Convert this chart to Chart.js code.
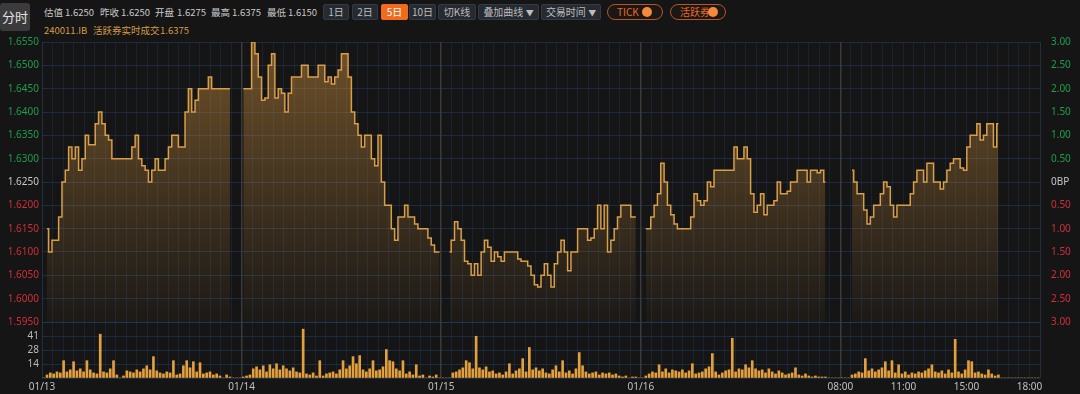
<!DOCTYPE html>
<html>
<head>
<meta charset="utf-8">
<script src="https://cdn.jsdelivr.net/npm/chart.js@4.4.1/dist/chart.umd.min.js"></script>
<style>
html, body { margin: 0; padding: 0; background: #151515; width: 1080px; height: 394px; overflow: hidden; }
body { position: relative; font-family: "Noto Sans CJK SC", "Noto Sans", sans-serif; }
.abs { position: absolute; white-space: nowrap; }
.tab { left: 0; top: 3px; width: 30px; height: 28px; background: #3b3b3b; border-radius: 3px; color: #e2e2e2; font-size: 13px; line-height: 28px; text-align: center; }
.info { top: 5px; font-size: 9.5px; line-height: 14px; color: #c8c8c8; }
.sub { top: 23px; font-size: 9.5px; line-height: 14px; color: #d49b42; }
.btn { top: 4px; height: 14px; line-height: 14px; background: #262a31; border: 1px solid #343a44; border-radius: 2px; color: #bdbdbd; font-size: 10px; text-align: center; }
.btn.on { background: #f26b1d; border-color: #f26b1d; color: #fff; }
.pill { top: 4px; height: 14px; line-height: 14px; border: 1px solid #b5552a; border-radius: 8px; color: #e8672a; font-size: 10px; padding-left: 9px; background: #1b1715; }
.dot { position: absolute; top: 2px; width: 10px; height: 10px; border-radius: 5px; background: #f58a3c; }
canvas { position: absolute; left: 0; }
</style>
</head>
<body>
<div class="abs tab">分时</div>

<div class="abs info" style="left:44px">估值</div>
<div class="abs info" style="left:65px">1.6250</div>
<div class="abs info" style="left:100px">昨收</div>
<div class="abs info" style="left:121px">1.6250</div>
<div class="abs info" style="left:155px">开盘</div>
<div class="abs info" style="left:177px">1.6275</div>
<div class="abs info" style="left:211px">最高</div>
<div class="abs info" style="left:232px">1.6375</div>
<div class="abs info" style="left:267px">最低</div>
<div class="abs info" style="left:288px">1.6150</div>

<div class="abs btn" style="left:323px;width:24px">1日</div>
<div class="abs btn" style="left:352px;width:24px">2日</div>
<div class="abs btn on" style="left:381px;width:25px">5日</div>
<div class="abs btn" style="left:409px;width:25px">10日</div>
<div class="abs btn" style="left:438px;width:36px">切K线</div>
<div class="abs btn" style="left:478px;width:59px">叠加曲线 <span style="font-size:8px">▼</span></div>
<div class="abs btn" style="left:541px;width:58px">交易时间 <span style="font-size:8px">▼</span></div>
<div class="abs pill" style="left:607px;width:45px">TICK<span class="dot" style="left:34px"></span></div>
<div class="abs pill" style="left:670px;width:45px">活跃券<span class="dot" style="left:37px"></span></div>

<div class="abs sub" style="left:44px">240011.IB</div>
<div class="abs sub" style="left:93px">活跃券实时成交</div>
<div class="abs sub" style="left:160px">1.6375</div>

<canvas id="priceChart" width="1080" height="298" style="top:33px"></canvas>
<canvas id="volChart" width="1080" height="83" style="top:313px"></canvas>

<script>
// ---------------- data ----------------
const dayLabels = ['01/13', '01/14', '01/15', '01/16'];
const timeLabels = ['08:00', '11:00', '15:00', '18:00'];

// price ticks (left) and bp ticks (right)
const priceTicks = [1.5950, 1.6000, 1.6050, 1.6100, 1.6150, 1.6200, 1.6250, 1.6300, 1.6350, 1.6400, 1.6450, 1.6500, 1.6550];
const basePrice = 1.6250;
const bpTicks = [-3, -2.5, -2, -1.5, -1, -0.5, 0, 0.5, 1, 1.5, 2, 2.5, 3];
const volTicks = [0, 13.75, 27.5, 41.25, 55];
const volTickLabels = ['', '14', '28', '41', ''];

// 60 samples per trading day
const day1Price = [null, 1.6150, 1.6100, 1.6125, 1.6125, 1.6175, 1.6250, 1.6275, 1.6325, 1.6300,
    1.6325, 1.6275, 1.6300, 1.6350, 1.6330, 1.6330, 1.6375, 1.6400, 1.6375, 1.6350,
    1.6340, 1.6300, 1.6300, 1.6300, 1.6300, 1.6300, 1.6300, 1.6325, 1.6350, 1.6300,
    1.6285, 1.6275, 1.6250, 1.6275, 1.6300, 1.6275, 1.6275, 1.6300, 1.6325, 1.6350,
    1.6350, 1.6325, 1.6325, 1.6400, 1.6450, 1.6400, 1.6425, 1.6450, 1.6450, 1.6450,
    1.6475, 1.6450, 1.6450, 1.6450, 1.6450, 1.6450, 1.6450, null, null, null];
const day2Price = [1.6450, 1.6450, 1.6450, 1.6550, 1.6525, 1.6475, 1.6425, 1.6430, 1.6500, 1.6525,
    1.6430, 1.6450, 1.6440, 1.6400, 1.6440, 1.6475, 1.6475, 1.6475, 1.6500, 1.6500,
    1.6475, 1.6475, 1.6475, 1.6500, 1.6500, 1.6465, 1.6475, 1.6460, 1.6475, 1.6490,
    1.6525, 1.6525, 1.6475, 1.6400, 1.6375, 1.6350, 1.6325, 1.6350, 1.6350, 1.6300,
    1.6285, 1.6350, 1.6250, 1.6200, 1.6200, 1.6150, 1.6125, 1.6175, 1.6175, 1.6200,
    1.6175, 1.6175, 1.6160, 1.6150, 1.6150, 1.6150, 1.6130, 1.6115, 1.6100, 1.6100];
const day3Price = [null, null, 1.6100, 1.6125, 1.6165, 1.6150, 1.6125, 1.6080, 1.6075, 1.6050,
    1.6075, 1.6050, 1.6100, 1.6125, 1.6110, 1.6080, 1.6100, 1.6090, 1.6080, 1.6100,
    1.6100, 1.6100, 1.6100, 1.6085, 1.6080, 1.6080, 1.6070, 1.6050, 1.6030, 1.6025,
    1.6050, 1.6075, 1.6050, 1.6025, 1.6075, 1.6100, 1.6125, 1.6100, 1.6060, 1.6100,
    1.6100, 1.6150, 1.6150, 1.6150, 1.6125, 1.6130, 1.6150, 1.6200, 1.6150, 1.6200,
    1.6100, 1.6125, 1.6150, 1.6175, 1.6200, 1.6200, 1.6200, 1.6175, 1.6175, null];
const day4Price = [null, 1.6150, 1.6150, 1.6175, 1.6200, 1.6225, 1.6290, 1.6250, 1.6200, 1.6180,
    1.6160, 1.6150, 1.6150, 1.6150, 1.6150, 1.6175, 1.6225, 1.6210, 1.6200, 1.6210,
    1.6250, 1.6240, 1.6275, 1.6275, 1.6275, 1.6275, 1.6275, 1.6275, 1.6325, 1.6300,
    1.6300, 1.6325, 1.6300, 1.6225, 1.6185, 1.6200, 1.6225, 1.6180, 1.6200, 1.6200,
    1.6210, 1.6250, 1.6225, 1.6225, 1.6230, 1.6250, 1.6250, 1.6275, 1.6275, 1.6275,
    1.6250, 1.6275, 1.6275, 1.6270, 1.6275, 1.6250, null, null, null, null];
const day5Price = [null, null, null, 1.6275, 1.6250, 1.6225, 1.6225, 1.6190, 1.6160, 1.6175,
    1.6200, 1.6200, 1.6225, 1.6250, 1.6240, 1.6200, 1.6175, 1.6200, 1.6200, 1.6200,
    1.6200, 1.6225, 1.6250, 1.6275, 1.6275, 1.6250, 1.6290, 1.6290, 1.6250, 1.6250,
    1.6235, 1.6250, 1.6275, 1.6290, 1.6300, 1.6300, 1.6280, 1.6275, 1.6325, 1.6350,
    1.6350, 1.6375, 1.6340, 1.6350, 1.6375, 1.6375, 1.6325, 1.6375, null, null,
    null, null, null, null, null, null, null, null, null, null];

const day1Vol = [0, 3, 5, 4, 6, 5, 17, 6, 8, 16, 7, 9, 6, 17, 8, 5, 4, 43, 6, 5,
    9, 17, 3, 0, 2, 7, 6, 5, 8, 6, 9, 12, 8, 21, 7, 5, 4, 6, 5, 17,
    3, 4, 12, 17, 10, 16, 6, 15, 4, 5, 6, 3, 4, 2, 0, 3, 1, 0, 0, 0];
const day2Vol = [1, 2, 3, 9, 11, 8, 12, 6, 13, 9, 14, 8, 12, 9, 7, 10, 6, 5, 48, 4,
    3, 5, 2, 17, 2, 4, 5, 6, 4, 8, 17, 9, 12, 21, 14, 22, 8, 6, 9, 17,
    7, 8, 11, 28, 17, 16, 9, 7, 17, 4, 6, 3, 13, 2, 3, 0, 2, 1, 3, 0];
const day3Vol = [0, 0, 0, 5, 6, 8, 10, 17, 15, 9, 41, 10, 8, 11, 6, 7, 4, 5, 3, 6,
    14, 4, 7, 9, 19, 6, 30, 8, 10, 7, 9, 5, 4, 8, 12, 6, 17, 5, 7, 4,
    9, 25, 12, 6, 4, 5, 6, 3, 5, 4, 5, 3, 4, 2, 1, 2, 0, 1, 1, 0];
const day4Vol = [0, 2, 4, 6, 5, 13, 6, 9, 5, 8, 7, 6, 8, 5, 7, 14, 4, 5, 6, 9,
    11, 24, 6, 3, 5, 7, 8, 39, 6, 9, 8, 13, 10, 17, 9, 7, 8, 5, 9, 6,
    4, 7, 5, 3, 4, 5, 10, 3, 2, 4, 2, 1, 2, 1, 1, 1, 0, 0, 0, 0];
const day5Vol = [0, 0, 0, 3, 4, 6, 5, 19, 7, 9, 6, 8, 10, 16, 7, 17, 5, 13, 4, 6,
    3, 5, 4, 6, 5, 7, 9, 13, 6, 5, 7, 4, 8, 5, 38, 6, 4, 8, 17, 16,
    5, 6, 4, 3, 8, 4, 2, 3, 0, 0, 0, 0, 0, 0, 0, 0, 0, 0, 0, 0];

// ---------------- layout helpers ----------------
const GRID_PER_DAY = 19;
const SAMPLES = 60;
const DAYS = 5;

const allPrices = [day1Price, day2Price, day3Price, day4Price, day5Price];
const allVols = [day1Vol, day2Vol, day3Vol, day4Vol, day5Vol];

const pricePoints = [];
const volPoints = [];
allPrices.forEach((arr, d) => {
    arr.forEach((v, i) => pricePoints.push({ x: d * GRID_PER_DAY + (i + 0.5) * GRID_PER_DAY / SAMPLES, y: v }));
    pricePoints.push({ x: (d + 1) * GRID_PER_DAY, y: null }); // break between days
});
allVols.forEach((arr, d) => {
    arr.forEach((v, i) => volPoints.push({ x: d * GRID_PER_DAY + (i + 0.5) * GRID_PER_DAY / SAMPLES, y: v }));
});

// x tick positions: one grid line per cell, labels on day starts + today's hours
const gridTicks = [];
for (let k = 0; k <= DAYS * GRID_PER_DAY; k++) gridTicks.push(k);
const xLabelMap = {};
dayLabels.forEach((t, d) => { xLabelMap[d * GRID_PER_DAY] = t; });
[0, 6, 12, 18].forEach((k, j) => { xLabelMap[4 * GRID_PER_DAY + k] = timeLabels[j]; });

const FONT = "'Noto Sans', 'Noto Sans CJK SC', sans-serif";
Chart.defaults.font.family = FONT;
Chart.defaults.font.size = 10;

const GREEN = '#1f9d4b';
const RED = '#cf2f3a';
const GREY = '#c6c6c6';

function xGridColor(c) {
    if (!c.tick) return 'rgba(0,0,0,0)';
    const k = c.tick.value;
    if (k === 0 || k === DAYS * GRID_PER_DAY) return 'rgba(45,70,100,0.55)';
    if (k % GRID_PER_DAY === 0) return '#3a3a3a';
    return 'rgba(35,60,95,0.35)';
}
function xGridWidth(c) {
    if (!c.tick) return 1;
    const k = c.tick.value;
    return (k % GRID_PER_DAY === 0 && k !== 0 && k !== DAYS * GRID_PER_DAY) ? 1.5 : 1;
}
const hGrid = 'rgba(35,65,105,0.5)';

// ---------------- price chart ----------------
const priceChart = new Chart(document.getElementById('priceChart'), {
    type: 'line',
    data: {
        datasets: [{
            data: pricePoints,
            borderColor: '#d99e48',
            borderWidth: 1.5,
            pointRadius: 0,
            stepped: 'middle',
            spanGaps: false,
            fill: 'start',
            backgroundColor: (c) => {
                const a = c.chart.chartArea;
                if (!a) return 'rgba(0,0,0,0)';
                const g = c.chart.ctx.createLinearGradient(0, a.top, 0, a.bottom);
                g.addColorStop(0, 'rgba(200,140,60,0.5)');
                g.addColorStop(1, 'rgba(200,140,60,0.04)');
                return g;
            }
        }]
    },
    options: {
        responsive: false,
        animation: false,
        events: [],
        layout: { padding: 0 },
        plugins: { legend: { display: false }, tooltip: { enabled: false } },
        scales: {
            x: {
                type: 'linear',
                min: 0,
                max: DAYS * GRID_PER_DAY,
                afterBuildTicks: (s) => { s.ticks = gridTicks.map(v => ({ value: v })); },
                ticks: { display: false },
                grid: { color: xGridColor, lineWidth: xGridWidth, drawTicks: false },
                border: { display: false }
            },
            y: {
                position: 'left',
                min: priceTicks[0],
                max: priceTicks[priceTicks.length - 1],
                afterBuildTicks: (s) => { s.ticks = priceTicks.map(v => ({ value: v })); },
                afterFit: (s) => { s.width = 42; },
                ticks: {
                    autoSkip: false,
                    padding: 3,
                    color: (c) => {
                        if (!c.tick) return GREY;
                        const v = c.tick.value;
                        if (Math.abs(v - basePrice) < 1e-7) return GREY;
                        return v > basePrice ? GREEN : RED;
                    },
                    callback: (v) => Number(v).toFixed(4)
                },
                grid: { color: hGrid, drawTicks: false },
                border: { display: false }
            },
            bp: {
                position: 'right',
                min: bpTicks[0],
                max: bpTicks[bpTicks.length - 1],
                afterBuildTicks: (s) => { s.ticks = bpTicks.map(v => ({ value: v })); },
                afterFit: (s) => { s.width = 40; },
                ticks: {
                    autoSkip: false,
                    padding: 3,
                    color: (c) => {
                        if (!c.tick) return GREY;
                        const v = c.tick.value;
                        if (v === 0) return GREY;
                        return v > 0 ? GREEN : RED;
                    },
                    callback: (v) => v === 0 ? '0BP' : Math.abs(v).toFixed(2)
                },
                grid: { display: false },
                border: { display: false }
            }
        }
    }
});

// ---------------- volume chart ----------------
const volChart = new Chart(document.getElementById('volChart'), {
    type: 'bar',
    data: {
        datasets: [{
            data: volPoints,
            backgroundColor: '#e3a03c',
            barThickness: 2,
            borderWidth: 0
        }]
    },
    options: {
        responsive: false,
        animation: false,
        events: [],
        layout: { padding: { right: 40 } },
        plugins: { legend: { display: false }, tooltip: { enabled: false } },
        scales: {
            x: {
                type: 'linear',
                min: 0,
                max: DAYS * GRID_PER_DAY,
                offset: false,
                afterBuildTicks: (s) => { s.ticks = gridTicks.map(v => ({ value: v })); },
                ticks: {
                    autoSkip: false,
                    maxRotation: 0,
                    padding: 3,
                    color: '#c0c0c0',
                    callback: (v) => xLabelMap[v] || ''
                },
                grid: { offset: false, color: xGridColor, lineWidth: xGridWidth, drawTicks: false },
                border: { display: false }
            },
            y: {
                position: 'left',
                min: 0,
                max: volTicks[volTicks.length - 1],
                afterBuildTicks: (s) => { s.ticks = volTicks.map(v => ({ value: v })); },
                afterFit: (s) => { s.width = 42; },
                ticks: {
                    autoSkip: false,
                    padding: 3,
                    color: '#b8b8b8',
                    callback: (v) => volTickLabels[volTicks.indexOf(v)]
                },
                grid: { color: hGrid, drawTicks: false },
                border: { display: false }
            }
        }
    }
});
</script>
</body>
</html>
